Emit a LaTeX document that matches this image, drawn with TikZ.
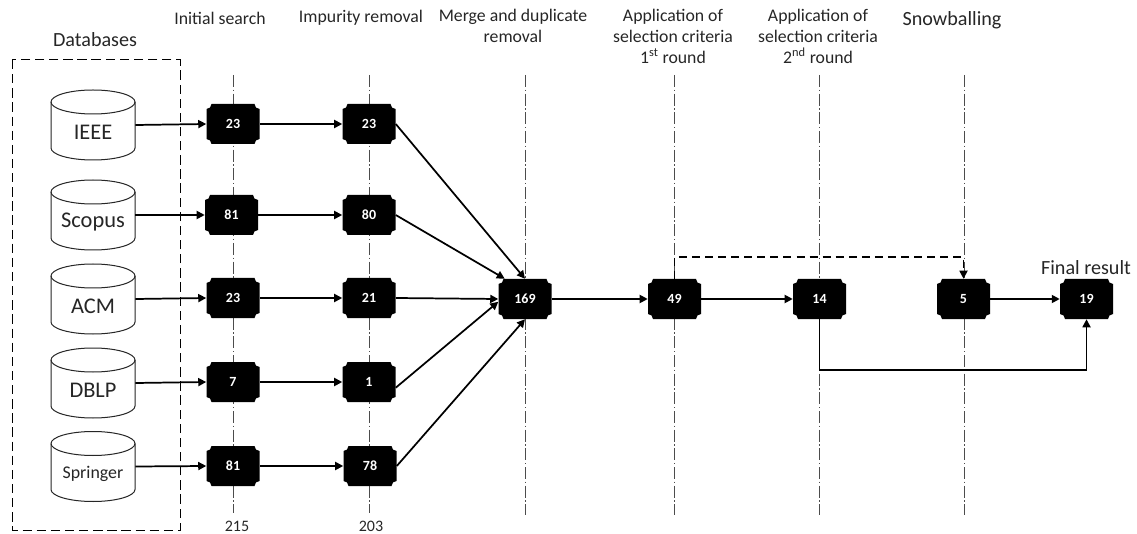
\documentclass[tikz,border=0pt]{standalone}
\usepackage{fontspec}
\setmainfont{Carlito}
\usetikzlibrary{arrows.meta,calc}
\definecolor{ink}{HTML}{262626}
\tikzset{
  x=0.75pt,y=-0.75pt,
  head/.style={font=\fontsize{13.3}{15.75}\selectfont,text=ink,align=center,inner sep=0pt},
  big/.style={font=\fontsize{15.1}{17}\selectfont,text=ink,inner sep=0pt},
  total/.style={font=\fontsize{12}{14}\selectfont,text=ink,inner sep=0pt},
  axis/.style={draw=black!70,line width=0.55pt,dash pattern=on 9pt off 2pt on 1pt off 2pt},
  frame/.style={draw=black,line width=0.75pt,dash pattern=on 7pt off 3.6pt},
  link/.style={draw=black,line width=1.3pt,-{Triangle[length=6pt,width=6pt]}},
  dashlink/.style={draw=black,line width=1.3pt,dash pattern=on 6pt off 3.8pt,-{Triangle[length=6pt,width=6pt]}},
  boxnum/.style={rectangle,minimum width=39.75pt,minimum height=30pt,inner sep=0pt,text=white,font=\fontsize{10.5}{12}\selectfont\bfseries},
  dbbox/.style={rectangle,minimum width=63pt,minimum height=52.5pt,inner sep=0pt},
  dbshape/.style={draw=black!85,line width=0.75pt,fill=white}
}
% plaque box: name, x, y, text
\newcommand{\plq}[4]{%
  \fill[black] (#2-26.5+5,#3-20) -- (#2+26.5-5,#3-20)
    arc[start angle=180,end angle=270,radius=3.75pt] -- (#2+26.5,#3-20+5) -- (#2+26.5,#3+20-5)
    arc[start angle=90,end angle=180,radius=3.75pt] -- (#2-26.5+5,#3+20)
    arc[start angle=0,end angle=90,radius=3.75pt] -- (#2-26.5,#3-20+5)
    arc[start angle=270,end angle=360,radius=3.75pt] -- cycle;
  \node[boxnum] (#1) at (#2,#3) {#4};}
% database cylinder: name, x, y, text, font
\newcommand{\cyl}[5]{%
  \node[dbbox] (#1) at (#2,#3) {};
  \path[dbshape] (#2-42,#3-23) arc[start angle=180,end angle=0,x radius=31.5pt,y radius=9pt]
     -- (#2+42,#3+23) arc[start angle=0,end angle=-180,x radius=31.5pt,y radius=9pt] -- cycle;
  \draw[dbshape,fill=none] (#2-42,#3-23) arc[start angle=180,end angle=360,x radius=31.5pt,y radius=9pt];
  \node[inner sep=0pt,text=ink,font=#5] (#1t) at (#2,#3+7) {#4};}
\begin{document}
\begin{tikzpicture}
\useasboundingbox (0,0) rectangle (1137,534);
% axes
\foreach \n/\xx/\ya/\yb in {a/233/75/513,b/369/75/513,c/525/75/515,d/674.5/75/515,e/819.5/75/515,f/964/75/515}{
  \coordinate (ax\n t) at (\xx,\ya);
  \coordinate (ax\n b) at (\xx,\yb);
  \draw[axis] (ax\n t) -- (ax\n b);
}
% frame
\draw[frame] (12,60) rectangle (180,530);
% headers
\node[big] (hdb) at (95,40) {Databases};
\node[head] (h1) at (220,18) {Initial search};
\node[head] (h2) at (361,18) {Impurity removal};
\node[head,anchor=north] (h3) at (513,9) {Merge and duplicate\\removal};
\node[head,anchor=north] (h4) at (673,9) {Application of\\selection criteria\\1\textsuperscript{st} round};
\node[head,anchor=north] (h5) at (818,9) {Application of\\selection criteria\\2\textsuperscript{nd} round};
\node[big] (h6) at (952,20) {Snowballing};
\node[big] (h7) at (1086,268) {Final result};
\node[total] (t1) at (237,526) {215};
\node[total] (t2) at (371,526) {203};
% cylinders
\def\fa{\fontsize{16.8}{19}\selectfont}
\cyl{ieee}{93}{125}{IEEE}{\fa}
\cyl{scopus}{93}{215}{Scopus}{\fa}
\cyl{acm}{93}{299}{ACM}{\fa}
\cyl{dblp}{93}{383}{DBLP}{\fa}
\cyl{springer}{93}{466.5}{Springer}{\fontsize{13.4}{15}\selectfont}
% boxes
\plq{a1}{233}{124}{23}
\plq{a2}{231.5}{215}{81}
\plq{a3}{233}{298}{23}
\plq{a4}{233}{382}{7}
\plq{a5}{233}{466}{81}
\plq{b1}{369}{124}{23}
\plq{b2}{369}{215}{80}
\plq{b3}{369}{298}{21}
\plq{b4}{369}{382}{1}
\plq{b5}{370}{466}{78}
\plq{m}{525}{299}{169}
\plq{s1}{674.5}{299}{49}
\plq{s2}{819.5}{299}{14}
\plq{sb}{963.5}{299}{5}
\plq{fin}{1086.5}{299}{19}
% links
\draw[link] (ieee.east) -- (a1.west);
\draw[link] (scopus.east) -- (a2.west);
\draw[link] (acm.east) -- (a3.west);
\draw[link] (dblp.east) -- (a4.west);
\draw[link] (springer.east) -- (a5.west);
\draw[link] (a1) -- (b1);
\draw[link] (a2) -- (b2);
\draw[link] (a3) -- (b3);
\draw[link] (a4) -- (b4);
\draw[link] (a5) -- (b5);
\draw[link] (b1.east) -- (m.north);
\draw[link] (b2.east) -- (m.135);
\draw[link] (b3.east) -- (m.west);
\draw[link] (b4.-12) -- (m.186);
\draw[link] (b5.east) -- (m.south);
\draw[link] (m) -- (s1);
\draw[link] (s1) -- (s2);
\draw[link] (sb) -- (fin);
\coordinate (dashy) at (800,257);
\draw[dashlink] (s1.north) |- (dashy) -| (sb.north);
\coordinate (loopy) at (950,370);
\draw[link] (s2.south) |- (loopy) -| (fin.south);
\end{tikzpicture}
\end{document}
